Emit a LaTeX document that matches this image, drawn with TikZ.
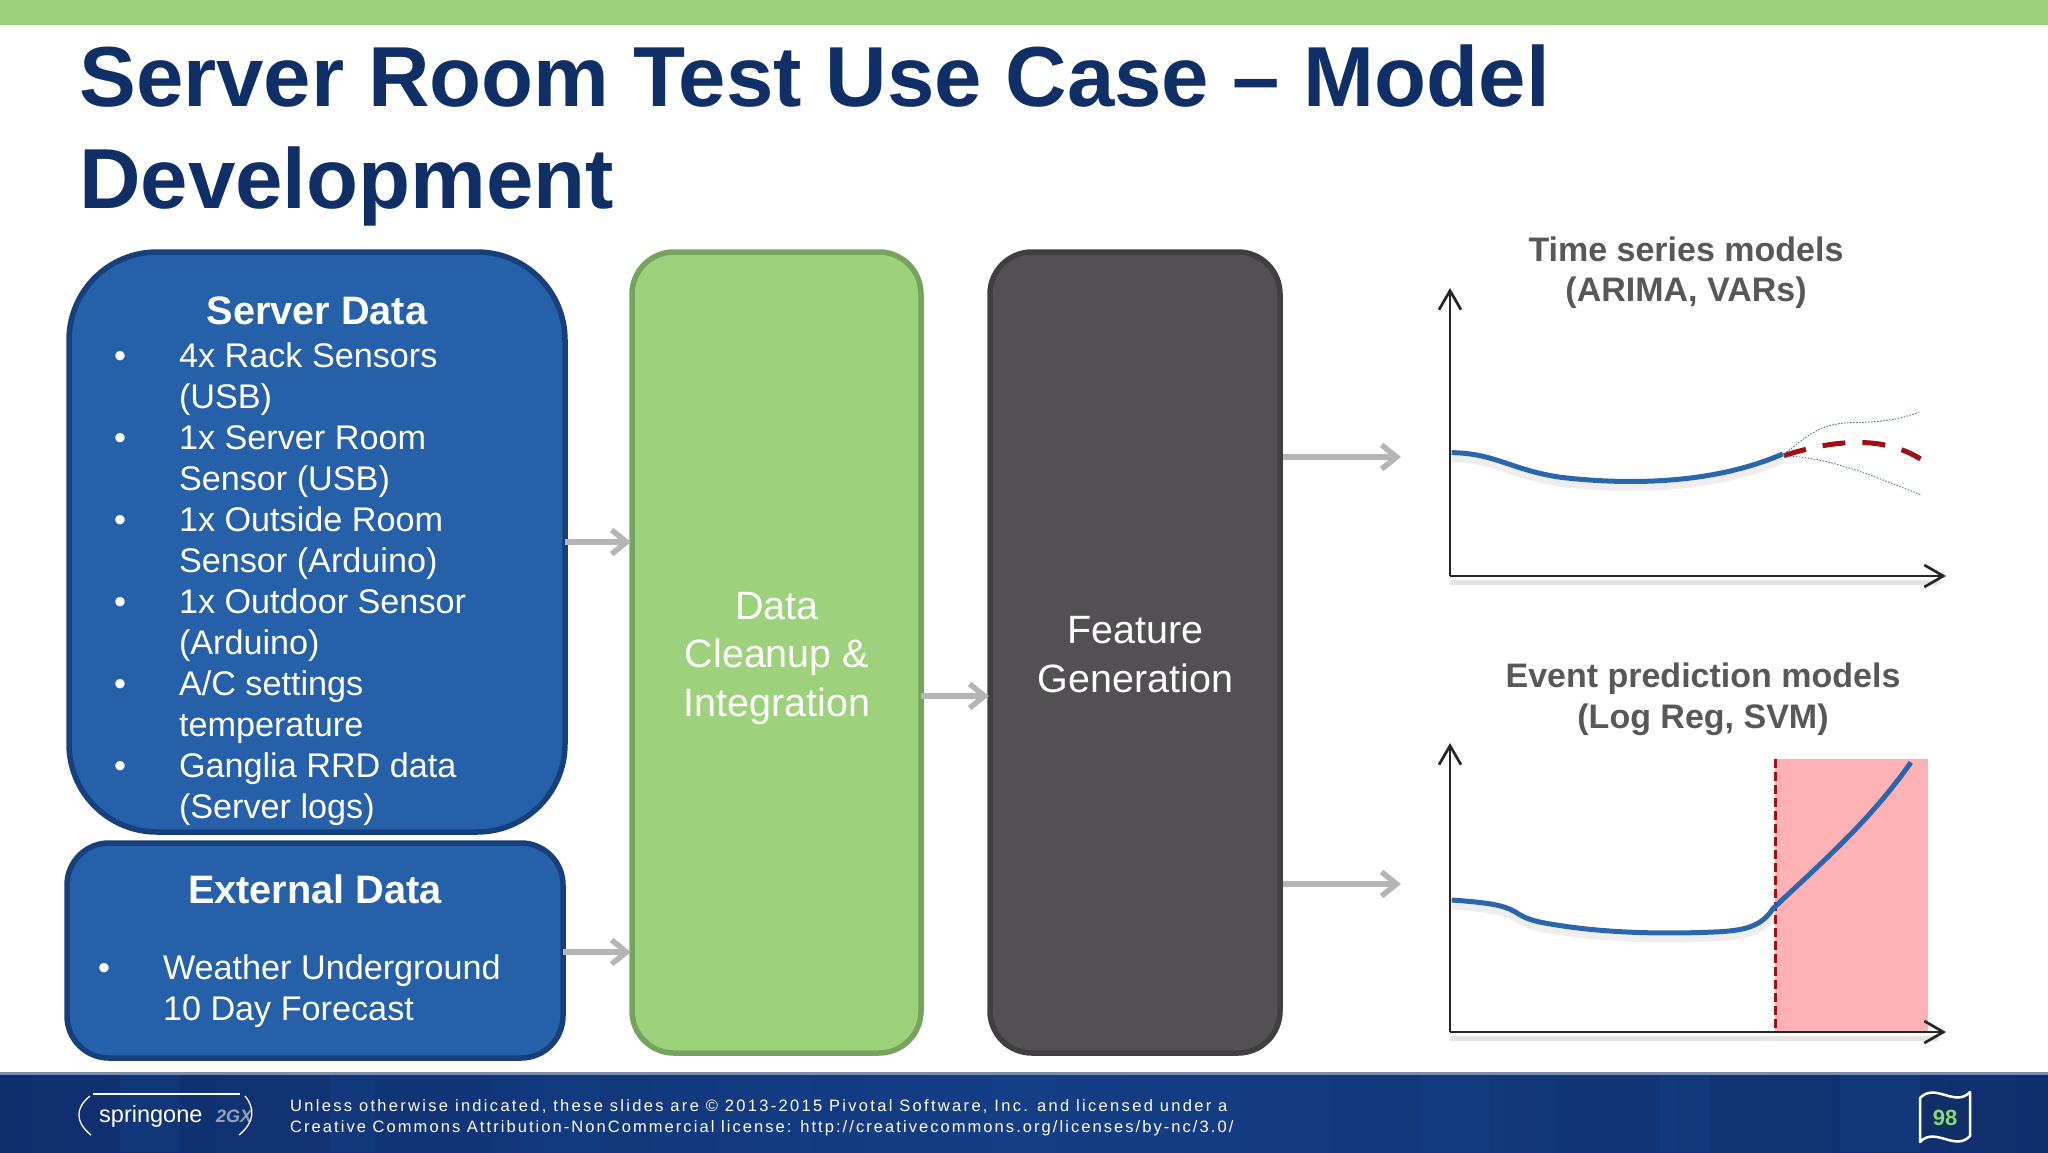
\documentclass[tikz,border=0pt]{standalone}
\usepackage{fontspec}
\setmainfont{Liberation Sans}
\usetikzlibrary{arrows.meta}
\definecolor{navy}{HTML}{0F2F66}
\definecolor{topgreen}{HTML}{9DD17B}
\definecolor{boxblue}{HTML}{2560A8}
\definecolor{boxblueb}{HTML}{173F7C}
\definecolor{greenb}{HTML}{76A35F}
\definecolor{darkf}{HTML}{525052}
\definecolor{darkb}{HTML}{3F3E40}
\definecolor{flowgray}{HTML}{B5B5B8}
\definecolor{labelgray}{HTML}{58585A}
\definecolor{curveblue}{HTML}{2A66AE}
\definecolor{dred}{HTML}{A00F14}
\definecolor{pinkf}{HTML}{FEB2B5}
\definecolor{badge}{HTML}{8ED66F}
\definecolor{footdark}{HTML}{0F2E6C}
\definecolor{footmid}{HTML}{143E86}
\newcommand{\fsz}[1]{\fontsize{#1}{#1}\selectfont}
\tikzset{
  txt/.style={inner sep=0pt,outer sep=0pt,text=white},
  listline/.style={txt,anchor=base west,font=\fsz{34.2}},
  bulletmark/.style={txt,anchor=base,font=\fsz{34.2}},
  boxhead/.style={txt,anchor=base,font=\fsz{39.7}\bfseries},
  panel/.style={draw,line width=5.5pt,inner sep=0pt,outer sep=0pt,anchor=north west},
  paneltext/.style={txt,align=center,font=\fsz{39.5}},
  flow/.style={draw=flowgray,line width=5.5pt,shorten >=1pt,-{Straight Barb[length=15pt,width=24pt,line width=5.5pt]}},
  axisline/.style={draw=black!85,line width=2.7pt,-{Straight Barb[length=19pt,width=22pt,line width=2.7pt]}},
  axisshadow/.style={draw=black!35,opacity=.3,line width=5pt},
  curveline/.style={draw=curveblue,line width=5pt},
  curveshadow/.style={draw=black!40,opacity=.16,line width=7pt},
  dotline/.style={draw=curveblue!60!gray,line width=.9pt,dash pattern=on 1.5pt off 1.5pt},
  charttitle/.style={inner sep=0pt,anchor=base,text=labelgray,font=\fsz{34}\bfseries},
}
\begin{document}
\begin{tikzpicture}[x=1pt,y=-1pt]
\useasboundingbox (0,0) rectangle (2048,1152);
\fill[white] (0,0) rectangle (2048,1152);
% top bar and footer
\fill[topgreen] (0,0) rectangle (2048,25);
\shade[left color=footdark,right color=footdark,middle color=footmid] (0,1073) rectangle (2048,1152);
\foreach \sx/\sw in {120/60,330/45,520/80,760/50,930/90,1180/60,1420/70,1660/50,1840/80}
  \fill[footmid,opacity=.45] (\sx,1075) rectangle ++(\sw,77);
\fill[navy!55!white] (0,1072) rectangle (2048,1075);
% title
\node[anchor=base west,inner sep=0pt,text=navy,font=\fsz{85.2}\bfseries] (title1) at (79,106) {Server Room Test Use Case – Model};
\node[anchor=base west,inner sep=0pt,text=navy,font=\fsz{85.2}\bfseries] (title2) at (79,208) {Development};
% boxes
\node[panel,fill=boxblue,draw=boxblueb,rounded corners=88pt,minimum width=496pt,minimum height=580pt] (sd) at (69,252) {};
\node[panel,fill=boxblue,draw=boxblueb,rounded corners=42pt,minimum width=496pt,minimum height=215pt] (ed) at (67,843) {};
\node[panel,fill=topgreen,draw=greenb,rounded corners=42pt,minimum width=289pt,minimum height=801pt] (clean) at (632,252) {};
\node[panel,fill=darkf,draw=darkb,rounded corners=42pt,minimum width=290pt,minimum height=801pt] (feat) at (990,252) {};
\node[paneltext] (cleant) at (777,658) {Data\\[9pt]Cleanup \&\\[9pt]Integration};
\node[paneltext] (featt) at (1135.5,654.5) {Feature\\[9pt]Generation};
% server data text
\node[boxhead] (sdh) at (317,324) {Server Data};
\foreach \n/\yy/\t in {a/367/4x Rack Sensors,b/408/(USB),c/449/1x Server Room,d/490/Sensor (USB),e/531/1x Outside Room,f/572/Sensor (Arduino),g/613/1x Outdoor Sensor,h/654/(Arduino),i/695/{A/C settings},j/736/temperature,k/777/Ganglia RRD data,l/818/(Server logs)}
  \node[listline] (sl\n) at (179,\yy) {\t};
\foreach \n/\yy in {a/367,c/449,e/531,g/613,i/695,k/777}
  \node[bulletmark] (sb\n) at (120,\yy) {•};
% external data text
\node[boxhead] (edh) at (315,903) {External Data};
\node[bulletmark] (eb) at (104,979) {•};
\node[listline] (el1) at (163,979) {Weather Underground};
\node[listline] (el2) at (163,1020) {10 Day Forecast};
% flow arrows
\coordinate (fa) at (0,542);
\coordinate (fb) at (0,952);
\coordinate (fc) at (0,696);
\coordinate (fd) at (1402,457);
\coordinate (fe) at (1402,884);
\draw[flow] (sd.east |- fa) -- (clean.west |- fa);
\draw[flow] (ed.east |- fb) -- (clean.west |- fb);
\draw[flow] (clean.east |- fc) -- (feat.west |- fc);
\draw[flow,shorten <=3pt] (feat.east |- fd) -- (fd);
\draw[flow,shorten <=3pt] (feat.east |- fe) -- (fe);
% chart titles
\node[charttitle] (ct1a) at (1686,261) {Time series models};
\node[charttitle] (ct1b) at (1686,301) {(ARIMA, VARs)};
\node[charttitle] (ct2a) at (1703,687) {Event prediction models};
\node[charttitle] (ct2b) at (1703,728) {(Log Reg, SVM)};
% chart 1
\begin{scope}[shift={(1400,260)},x=0.3827pt,y=-0.3333pt]
  \draw[curveshadow,yshift=-6pt] (135,578) .. controls (250,580) and (290,630) .. (420,652) .. controls (600,676) and (820,672) .. (1000,582);
  \draw[curveline] (135,578) .. controls (250,580) and (290,630) .. (420,652) .. controls (600,676) and (820,672) .. (1000,582);
  \draw[dred,line width=5pt,dash pattern=on 23pt off 17pt] (1003,587) .. controls (1130,540) and (1260,525) .. (1360,597);
  \draw[dotline] (1003,582) .. controls (1060,535) and (1090,490) .. (1180,488) .. controls (1260,486) and (1300,480) .. (1355,457);
  \draw[dotline] (1003,588) .. controls (1120,590) and (1240,650) .. (1360,704);
\end{scope}
\draw[axisshadow] (1450,582) -- (1938,582);
\draw[axisline] (1450,576) -- (1450,288);
\draw[axisline] (1450,576) -- (1946,576);
% chart 2
\fill[pinkf] (1775,759) rectangle (1928,1032);
\begin{scope}[shift={(1400,730)},x=0.3827pt,y=-0.3333pt]
  \draw[curveshadow,yshift=-6pt] (135,510) .. controls (230,518) and (270,525) .. (300,545) .. controls (330,568) and (350,575) .. (420,587) .. controls (560,612) and (720,612) .. (840,605) .. controls (900,600) and (945,590) .. (975,535);
  \draw[dred,line width=3pt,dash pattern=on 9pt off 4pt] (980,88) -- (980,905);
  \draw[curveline] (135,510) .. controls (230,518) and (270,525) .. (300,545) .. controls (330,568) and (350,575) .. (420,587) .. controls (560,612) and (720,612) .. (840,605) .. controls (900,600) and (945,590) .. (975,535) .. controls (1100,400) and (1230,270) .. (1335,97);
\end{scope}
\draw[axisshadow] (1450,1038) -- (1938,1038);
\draw[axisline] (1450,1032) -- (1450,743);
\draw[axisline] (1450,1032) -- (1946,1032);
% footer text
\node[anchor=base west,inner sep=0pt,text=white,font=\fsz{16.5}\addfontfeatures{LetterSpace=14}] (f1) at (290,1111) {Unless otherwise indicated, these slides are © 2013-2015 Pivotal Software, Inc. and licensed under a};
\node[anchor=base west,inner sep=0pt,text=white,font=\fsz{16.5}\addfontfeatures{LetterSpace=12.5}] (f2) at (290,1132) {Creative Commons Attribution-NonCommercial license: http://creativecommons.org/licenses/by-nc/3.0/};
% logo
\node[anchor=base west,inner sep=0pt,text=white,font=\fsz{23.5}] (logo) at (99,1122) {springone};
\node[anchor=base west,inner sep=0pt,text=white!55!navy,font=\fsz{18}\bfseries\itshape] (logob) at (216,1122) {2GX};
\draw[white,line width=1.3pt] (93,1094) -- (240,1094);
\draw[white,line width=1.3pt] (90,1096) .. controls (75,1108) and (75,1122) .. (91,1135);
\draw[white,line width=1.3pt] (245,1096) .. controls (255,1108) and (255,1122) .. (239,1135);
% page badge
\draw[white,line width=2.5pt,line join=round,fill=navy] (1920,1098) .. controls (1935,1082) and (1955,1108) .. (1970,1092) -- (1970,1136) .. controls (1955,1152) and (1935,1126) .. (1920,1142) -- cycle;
\node[inner sep=0pt,text=badge,font=\fsz{22}\bfseries] (pg) at (1945,1118) {98};
\end{tikzpicture}
\end{document}
